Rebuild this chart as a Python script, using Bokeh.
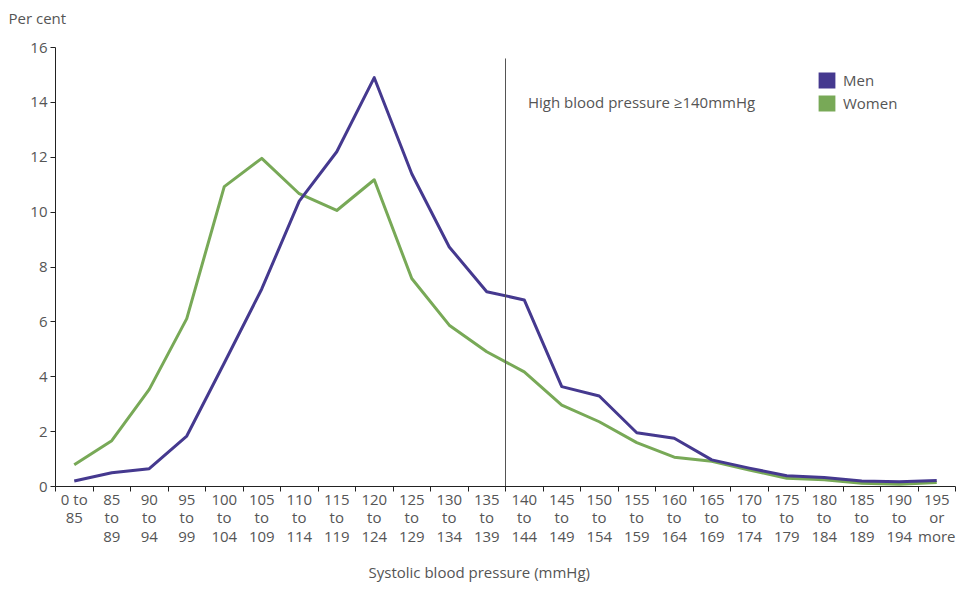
from bokeh.plotting import figure
from bokeh.models import FixedTicker, Range1d, Label, Legend, LegendItem, Title
from bokeh.embed import file_html
from bokeh.resources import INLINE

categories = ["0 to\n85", "85\nto\n89", "90\nto\n94", "95\nto\n99", "100\nto\n104",
              "105\nto\n109", "110\nto\n114", "115\nto\n119", "120\nto\n124", "125\nto\n129",
              "130\nto\n134", "135\nto\n139", "140\nto\n144", "145\nto\n149", "150\nto\n154",
              "155\nto\n159", "160\nto\n164", "165\nto\n169", "170\nto\n174", "175\nto\n179",
              "180\nto\n184", "185\nto\n189", "190\nto\n194", "195\nor\nmore"]
men = [0.2, 0.5, 0.65, 1.84, 4.5, 7.2, 10.4, 12.2, 14.9, 11.4, 8.73, 7.1,
       6.8, 3.64, 3.3, 1.96, 1.76, 0.97, 0.67, 0.39, 0.33, 0.2, 0.17, 0.22]
women = [0.79, 1.67, 3.54, 6.12, 10.93, 11.96, 10.67, 10.06, 11.18, 7.58, 5.88, 4.91,
         4.18, 2.97, 2.36, 1.6, 1.07, 0.92, 0.6, 0.3, 0.25, 0.12, 0.08, 0.15]
y_ticks = [0, 2, 4, 6, 8, 10, 12, 14, 16]
threshold_category = "140\nto\n144"
threshold_top = 15.6
threshold_text = "High blood pressure \u2265140mmHg"
series_names = ["Men", "Women"]
y_title = "Per cent"
x_title = "Systolic blood pressure (mmHg)"

MEN_COLOR = "#45398f"
WOMEN_COLOR = "#78a957"
TEXT_COLOR = "#555555"
AXIS_COLOR = "#222222"
FONT = "Open Sans"
FS = "15px"

n = len(categories)
xs = [i + 0.5 for i in range(n)]

p = figure(width=956, height=592, x_range=Range1d(0, n), y_range=Range1d(0, 16),
           output_backend="svg", toolbar_location=None,
           min_border_left=55, min_border_right=1, min_border_top=47, min_border_bottom=105)
p.grid.visible = False
p.outline_line_color = None

# lines
p.line(xs, women, line_width=3, line_color=WOMEN_COLOR, line_join="round")
p.line(xs, men, line_width=3, line_color=MEN_COLOR, line_join="round")

# threshold line
ti = categories.index(threshold_category)
p.segment(x0=[ti], y0=[0], x1=[ti], y1=[threshold_top], line_color="#555555", line_width=1)
p.add_layout(Label(x=ti + 0.6, y=14, text=threshold_text, text_font=FONT, text_font_size=FS,
                   text_color=TEXT_COLOR, text_baseline="middle", text_align="left"))

# y axis
yax = p.yaxis[0]
yax.ticker = FixedTicker(ticks=y_ticks)
yax.minor_tick_line_color = None
yax.major_tick_out = 5
yax.major_tick_in = 0
yax.major_label_standoff = 3
yax.axis_line_color = AXIS_COLOR
yax.major_tick_line_color = AXIS_COLOR
yax.major_label_text_font = FONT
yax.major_label_text_font_size = FS
yax.major_label_text_color = TEXT_COLOR

# x axis
xax = p.xaxis[0]
xax.ticker = FixedTicker(ticks=xs, minor_ticks=list(range(n + 1)))
xax.major_label_overrides = {x: c for x, c in zip(xs, categories)}
xax.major_tick_out = 0
xax.major_tick_in = 0
xax.minor_tick_out = 5
xax.minor_tick_in = 0
xax.minor_tick_line_color = AXIS_COLOR
xax.axis_line_color = AXIS_COLOR
xax.major_label_standoff = -3
xax.major_label_text_font = FONT
xax.major_label_text_font_size = FS
xax.major_label_text_color = TEXT_COLOR
xax.major_label_text_line_height = 0.93

# titles (second empty line lifts "Per cent" above the plot area)
p.title.text = y_title + "\n "
p.title.align = "left"
p.title.offset = -47
p.title.standoff = 0
p.title.vertical_align = "bottom"
p.title.text_line_height = 1.0
p.title.text_font = FONT
p.title.text_font_size = FS
p.title.text_font_style = "normal"
p.title.text_color = TEXT_COLOR

p.add_layout(Title(text=x_title, align="left", offset=313, standoff=22, text_line_height=0.8,
                   text_font=FONT, text_font_size=FS, text_font_style="normal",
                   text_color=TEXT_COLOR), "below")

# legend
nan = float("nan")
r_m = p.rect(x=[nan], y=[nan], width=[1], height=[1], fill_color=MEN_COLOR, line_color=None)
r_w = p.rect(x=[nan], y=[nan], width=[1], height=[1], fill_color=WOMEN_COLOR, line_color=None)
legend = Legend(items=[LegendItem(label=series_names[0], renderers=[r_m]),
                       LegendItem(label=series_names[1], renderers=[r_w])],
                location=(761, 373), padding=0, margin=0, spacing=3,
                glyph_width=21, glyph_height=20, label_height=20, label_standoff=6,
                border_line_color=None, background_fill_alpha=0,
                label_text_font=FONT, label_text_font_size=FS, label_text_color=TEXT_COLOR)
p.add_layout(legend)

open("out.html", "w").write(file_html(p, INLINE))
